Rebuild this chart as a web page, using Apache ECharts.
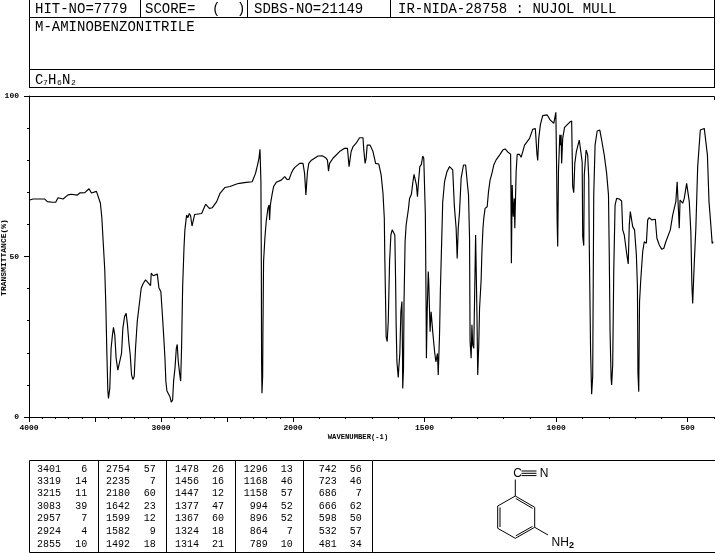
<!DOCTYPE html>
<html><head><meta charset="utf-8">
<style>html,body{margin:0;padding:0;background:#fff}#c{width:715px;height:553px}</style>
<script src="https://cdn.jsdelivr.net/npm/echarts@6/dist/echarts.min.js"></script>
</head><body><div id="c"></div>
<script>
const highRangeSpectrum = [[4000,67.5],[3970,67.9],[3919,67.9],[3881,67.9],[3861,67.1],[3823,66.9],[3798,66.9],[3780,68.3],[3742,67.9],[3704,69.2],[3679,69.4],[3636,69.1],[3615,69.8],[3577,69.9],[3545,71.1],[3527,69.8],[3489,70.3],[3474,70.1],[3459,66.6],[3448,61.9],[3438,54.6],[3426,45.8],[3418,34.9],[3410,19.8],[3403,8.4],[3398,5.8],[3388,8.9],[3378,21.4],[3368,25.5],[3360,27.9],[3350,25.5],[3340,18.3],[3327,14.6],[3312,14.5],[3299,19.8],[3289,27.6],[3276,31.3],[3264,32.3],[3254,28.7],[3244,23.5],[3233,19.3],[3223,13.1],[3213,11.7],[3203,12.6],[3193,21.4],[3180,29.7],[3165,34.9],[3150,40.1],[3135,41.6],[3117,42.7],[3097,41.8],[3079,40.9],[3074,44.8],[3059,44],[3028,44.5],[3016,40.3],[3001,39],[2991,32.8],[2980,25.5],[2970,18.3],[2963,11],[2955,8.1],[2940,8.7],[2932,6.3],[2922,4.6],[2912,5.3],[2904,11.5],[2894,15.2],[2884,21.4],[2877,22.6],[2869,17.2],[2859,13.6],[2851,11.2],[2844,21.9],[2836,40.6],[2826,52.5],[2819,58.3],[2806,62.9],[2796,62.1],[2786,63.4],[2776,62.7],[2765,59.5],[2755,59.5],[2745,63.1],[2692,63.4],[2662,66.3],[2634,65],[2611,65.2],[2578,67.1],[2553,69.7],[2515,71.5],[2477,71.8],[2427,72.6],[2405,72.8],[2355,73.1],[2309,73.3],[2299,73.1],[2284,75.9],[2269,78.5],[2258,80.6],[2250,83.4],[2243,73.3],[2240,48.4],[2238,17.2],[2235,7.4],[2230,12.6],[2228,25.5],[2223,48.4],[2213,55.7],[2203,60.9],[2190,65],[2182,66],[2177,61.4],[2172,66],[2159,69.2],[2147,71.8],[2127,73.1],[2089,73.8],[2063,74.9],[2046,74],[2030,74],[2013,75.9],[2000,77]];
const lowRangeSpectrum = [[2000,77],[1994,77.7],[1975,79],[1962,79],[1956,75.9],[1951,69.2],[1948,69],[1945,76.4],[1940,79],[1930,80],[1905,81.3],[1889,81.4],[1876,80.8],[1869,80],[1865,76.6],[1861,79],[1848,80.6],[1823,82.7],[1804,83.7],[1793,83.7],[1787,78],[1784,78],[1779,82.7],[1772,84.2],[1760,85.3],[1747,87],[1734,87],[1731,83.2],[1726,79],[1722,80.6],[1718,84.7],[1707,84.7],[1696,82.7],[1686,79],[1674,78.8],[1665,75.4],[1658,69.7],[1653,61.9],[1651,49.4],[1648,35.4],[1646,25],[1642,23.5],[1638,29.7],[1633,48.4],[1628,56.7],[1623,58.3],[1617,58.8],[1613,56.7],[1610,42.2],[1608,28.7],[1605,17.2],[1603,16.7],[1600,12.3],[1598,15.2],[1594,19.8],[1590,32.8],[1586,36],[1584,21.4],[1583,8.9],[1580,15.2],[1578,36],[1574,54.6],[1570,59.8],[1561,65],[1557,68.1],[1550,69.4],[1545,72.8],[1540,75.6],[1534,75.6],[1531,72.3],[1527,68.6],[1523,73.3],[1518,78],[1512,78.7],[1507,81.3],[1503,80.6],[1497,63],[1494,32.8],[1493,18.3],[1490,32.8],[1486,45.3],[1484,42.2],[1481,32.8],[1479,26.6],[1475,32.8],[1472,29.7],[1469,26.6],[1462,20.4],[1457,17.2],[1454,16.7],[1451,19.8],[1448,13.1],[1443,26],[1440,39],[1436,51.5],[1431,67],[1424,73.3],[1415,76.4],[1405,78],[1399,78.5],[1393,77],[1387,66],[1380,58.8],[1376,49.4],[1372,58.8],[1367,64],[1361,74.4],[1352,78.5],[1344,78.5],[1338,73.3],[1333,69.2],[1329,55.7],[1327,23.5],[1323,18.3],[1320,28.7],[1317,22.4],[1313,21.4],[1308,46.3],[1306,56.7],[1303,56.7],[1301,32.8],[1298,13.1],[1296,13.1],[1294,22.4],[1291,33.9],[1285,42.7],[1282,51.5],[1278,58.8],[1275,61.9],[1270,65],[1262,65.5],[1257,70.2],[1251,73.8],[1244,75.9],[1237,78.5],[1228,80.1],[1215,81.6],[1202,83.2],[1194,83.5],[1183,82.5],[1173,81.9],[1172,72.8],[1170,47.9],[1167,72.3],[1163,62.4],[1159,68.1],[1157,58.8],[1152,76.4],[1148,81.8],[1139,81.8],[1133,80.9],[1120,84.7],[1101,86.8],[1089,89.6],[1079,89.9],[1073,82.1],[1070,79.9],[1066,86.8],[1060,91],[1051,93.9],[1034,94.1],[1022,92.5],[1009,91.5],[1001,94.9],[998,76.9],[996,60.3],[994,53.1],[991,76.9],[986,87.9],[984,84.7],[981,87.9],[979,79],[975,86.8],[968,90.2],[949,91.8],[941,92.2],[937,71.8],[933,69.9],[929,79],[923,82.7],[912,86.3],[905,86.8],[901,79.5],[899,56.2],[895,53.4],[893,75.4],[886,83.2],[880,81.6],[876,74.4],[874,53.6],[869,20.4],[865,7.1],[861,12.6],[857,69.2],[852,84.7],[844,89.1],[834,89.4],[827,86.3],[817,81.6],[808,75.9],[801,69.2],[798,50.5],[795,26.6],[791,12],[789,10],[785,16.2],[781,45.3],[776,66],[770,68.1],[760,67.9],[751,67.3],[747,58.3],[741,56.7],[732,51],[726,47.7],[722,59.8],[718,64],[715,64.5],[709,59.3],[702,58.3],[695,50.5],[691,40.6],[689,13.6],[686,7.9],[683,35.9],[678,43.2],[671,51.5],[665,54.6],[657,54.1],[652,61.4],[646,62.1],[637,61.4],[623,61.6],[617,55.7],[608,53.6],[599,52.3],[591,52.5],[583,54.6],[566,58.3],[557,62.9],[545,67.1],[540,73.3],[535,73.3],[532,58.8],[529,67.6],[519,66.6],[513,68.1],[504,72.8],[498,73.1],[494,67.1],[488,57.7],[484,41.1],[481,35.4],[479,39.6],[475,47.9],[469,58.8],[462,78],[452,89.4],[437,89.9],[430,90.2],[425,81.6],[419,67.1],[412,59.8],[407,54.1],[403,54.6]];

const peakWavenumbers = [
  ['3401','3319','3215','3083','2957','2924','2855'],
  ['2754','2235','2180','1642','1599','1582','1492'],
  ['1478','1456','1447','1377','1367','1324','1314'],
  ['1296','1168','1158','994','896','864','789'],
  ['742','723','686','666','598','532','481']
];
const peakTransmittances = [
  ['6','14','11','39','7','4','10'],
  ['57','7','60','23','12','9','18'],
  ['26','16','12','47','60','18','21'],
  ['13','46','57','52','52','7','10'],
  ['56','46','7','62','50','57','34']
];
const xMajorLabels = [2000, 1500, 1000, 500];
const headerCells = ['HIT-NO=7779','SCORE=','(',')','SDBS-NO=21149','IR-NIDA-28758 : NUJOL MULL'];
const headerCellX = [35,145,212,237,254,398];
const compoundName = 'M-AMINOBENZONITRILE';

const MONO = '"Liberation Mono","DejaVu Sans Mono",monospace';
const SANS = '"Liberation Sans",sans-serif';
const g = [];
const line = (x1,y1,x2,y2,w) => g.push({type:'line',silent:true,shape:{x1,y1,x2,y2},style:{stroke:'#000',lineWidth:w||1}});
const text = (x,y,t,o,extra) => g.push(Object.assign({type:'text',silent:true,x,y,style:Object.assign({text:t,fill:'#000',font:'14px '+MONO,textAlign:'left',textVerticalAlign:'middle'},o||{})},extra||{}));

// header frame
line(29.5,0,29.5,87.5); line(714.5,0,714.5,87.5);
line(29,17.5,715,17.5); line(29,69.5,715,69.5); line(29,87.5,715,87.5);
[140.5,247.5,390.5].forEach(x=>line(x,0,x,17.5));
headerCells.forEach((t,i)=>text(headerCellX[i],9,t));
text(35,27,compoundName);
text(35,80,'C'); text(43,83,'7',{font:'8px '+MONO}); text(48,80,'H'); text(57,83,'6',{font:'8px '+MONO}); text(62,80,'N'); text(71,83,'2',{font:'8px '+MONO});

// plot extras
line(29,96.5,714.5,96.5); line(714.5,96.5,714.5,100);
text(358,437,'WAVENUMBER(-1)',{font:'bold 7.2px '+MONO,textAlign:'center'});
text(4,257.5,'TRANSMITTANCE(%)',{font:'bold 8px '+MONO,textAlign:'center'},{rotation:Math.PI/2});

// peak table
line(29.5,460.5,372.5,460.5); line(29.5,552.5,715,552.5); line(29.5,460.5,29.5,552.5);
[98.5,166.5,235.5,303.5,372.5].forEach(x=>line(x,460.5,x,552.5));
const colW=[61,130,199,267.7,336.7], colT=[87.3,155.7,224,292.7,361.7], rowY=[469.7,481.7,493.7,506,518.3,531,544.3];
peakWavenumbers.forEach((col,c)=>col.forEach((v,r)=>{
  text(colW[c],rowY[r],v,{font:'10px '+MONO,textAlign:'right'});
  text(colT[c],rowY[r],peakTransmittances[c][r],{font:'10px '+MONO,textAlign:'right'});
}));

// structure panel
line(372.5,460.5,715,460.5);
const h=[[515.3,496],[534.7,507.3],[534.7,527.3],[515.3,538.3],[497.7,528.3],[497.7,506]];
h.forEach((p,i)=>{const q=h[(i+1)%6];line(p[0],p[1],q[0],q[1]);});
line(515.8,498.5,532.5,508.3); line(532.5,526.4,515.8,535.8); line(500,507.5,500,527);
line(515.3,479.5,515.3,496); line(534.7,527.3,548,535);
[471,473.3,475.6].forEach(y=>line(521.5,y,536.5,y));
text(517.5,473.5,'C',{font:'12px '+SANS,textAlign:'center'});
text(544,473.5,'N',{font:'12px '+SANS,textAlign:'center'});
text(551.5,543,'NH',{font:'12px '+SANS});
text(569,545.5,'2',{font:'bold 9px '+SANS});

const axisText = {fontFamily:MONO,fontSize:8,fontWeight:'bold',color:'#000'};
const lineStyle = {color:'#000',width:1};
const spectrumSeries = (data,xi,yi)=>({type:'line',data,xAxisIndex:xi,yAxisIndex:yi,showSymbol:false,symbol:'none',smooth:false,silent:true,lineStyle:{color:'#000',width:1.15},clip:true,animation:false});

echarts.init(document.getElementById('c'),null,{renderer:'canvas'}).setOption({
  animation:false,
  backgroundColor:'#fff',
  grid:[{left:29,top:96,width:264,height:321,containLabel:false,outerBoundsMode:'none'},{left:293,top:96,width:421,height:321,containLabel:false,outerBoundsMode:'none'}],
  xAxis:[
    {type:'value',gridIndex:0,position:'bottom',inverse:true,min:2000,max:4000,interval:500,splitLine:{show:false},
      axisLine:{lineStyle,onZero:false},axisTick:{length:5,lineStyle},
      minorTick:{show:true,splitNumber:5,length:2,lineStyle},
      axisLabel:Object.assign({margin:7,formatter:v=>v%1000===0&&v!==2000?String(v):''},axisText)},
    {type:'value',gridIndex:1,position:'bottom',inverse:true,min:400,max:2000,interval:100,splitLine:{show:false},
      axisLine:{lineStyle,onZero:false},axisTick:{length:2,lineStyle},axisLabel:{show:false}},
    {type:'value',gridIndex:1,position:'bottom',inverse:true,min:400,max:2000,interval:100,splitLine:{show:false},
      axisLine:{show:false,onZero:false},
      axisTick:{length:5,lineStyle,customValues:xMajorLabels},
      axisLabel:Object.assign({margin:7,customValues:xMajorLabels,formatter:v=>String(v)},axisText)}
  ],
  yAxis:[
    {type:'value',gridIndex:0,min:0,max:100,interval:50,splitLine:{show:false},
      axisLine:{lineStyle,onZero:false},axisTick:{length:5,lineStyle},
      minorTick:{show:true,splitNumber:5,length:2,lineStyle},
      axisLabel:Object.assign({margin:10},axisText)},
    {type:'value',gridIndex:1,min:0,max:100,show:false}
  ],
  series:[spectrumSeries(highRangeSpectrum,0,0),spectrumSeries(lowRangeSpectrum,1,1)],
  graphic:{elements:g}
});
</script></body></html>
